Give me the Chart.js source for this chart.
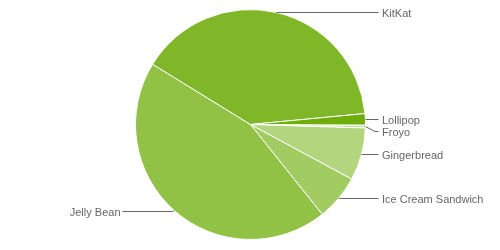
<!DOCTYPE html>
<html>
<head>
<meta charset="utf-8">
<script src="https://cdn.jsdelivr.net/npm/chart.js@4"></script>
<style>
  html, body { margin: 0; padding: 0; background: #fff; }
  #wrap { width: 500px; height: 250px; }
</style>
</head>
<body>
<div id="wrap"><canvas id="c" width="500" height="250"></canvas></div>
<script>
const categories = ["Froyo", "Gingerbread", "Ice Cream Sandwich", "Jelly Bean", "KitKat", "Lollipop"];
const shares = [0.4, 7.4, 6.4, 44.5, 39.7, 1.6];
const sliceColors = ["#c4df9b", "#b3d57e", "#a2cb62", "#91c145", "#80b729", "#6fad0c"];

const leaderLabels = {
  id: 'leaderLabels',
  afterDatasetsDraw(chart) {
    const ctx = chart.ctx;
    const meta = chart.getDatasetMeta(0);
    const items = meta.data.map((arc, i) => {
      const p = arc.getProps(['x', 'y', 'startAngle', 'endAngle', 'outerRadius'], true);
      const mid = (p.startAngle + p.endAngle) / 2;
      const ex = p.x + Math.cos(mid) * p.outerRadius;
      const ey = p.y + Math.sin(mid) * p.outerRadius;
      return { i, ex, ey, ly: ey, right: Math.cos(mid) >= 0, cx: p.x, R: p.outerRadius };
    });
    [true, false].forEach(side => {
      const list = items.filter(d => d.right === side).sort((a, b) => a.ey - b.ey);
      for (let k = 1; k < list.length; k++) {
        if (list[k].ly < list[k - 1].ly + 12) list[k].ly = list[k - 1].ly + 12;
      }
    });
    ctx.save();
    ctx.font = '11px "Liberation Sans", Arial, sans-serif';
    ctx.textBaseline = 'middle';
    ctx.lineWidth = 1;
    items.forEach(d => {
      const sign = d.right ? 1 : -1;
      const dy = Math.abs(d.ly - d.ey);
      const bx = d.ex + sign * Math.max(1.5, 2 * dy);
      const colEnd = d.right ? d.cx + d.R + 13 : d.cx - d.R - 13;
      const ly = Math.round(d.ly) + 0.5;
      ctx.strokeStyle = '#666';
      ctx.beginPath();
      ctx.moveTo(d.ex, d.ey);
      ctx.lineTo(bx, ly);
      ctx.lineTo(colEnd, ly);
      ctx.stroke();
      ctx.fillStyle = '#666';
      ctx.textAlign = d.right ? 'left' : 'right';
      const tx = d.right ? colEnd + 3.5 : colEnd - 2;
      ctx.fillText(categories[d.i], tx, ly + 1);
    });
    ctx.restore();
  }
};

new Chart(document.getElementById('c'), {
  type: 'pie',
  data: {
    labels: categories,
    datasets: [{
      data: shares,
      backgroundColor: sliceColors,
      borderColor: '#ffffff',
      borderWidth: 1,
      hoverBorderWidth: 1,
      hoverOffset: 0
    }]
  },
  options: {
    responsive: false,
    animation: false,
    rotation: 90.3,
    layout: { padding: { top: 9, bottom: 10, left: 1, right: 0 } },
    plugins: {
      legend: { display: false },
      tooltip: { enabled: false }
    }
  },
  plugins: [leaderLabels]
});
</script>
</body>
</html>
